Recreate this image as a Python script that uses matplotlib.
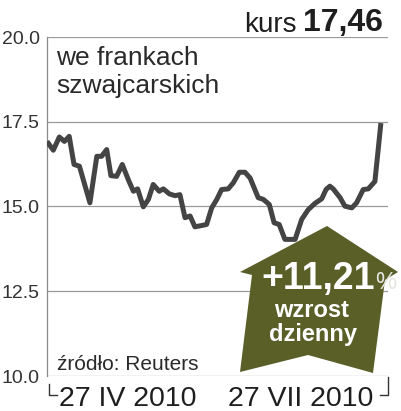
import matplotlib
matplotlib.use('Agg')
import matplotlib.pyplot as plt
from matplotlib.patches import Polygon

# daily rate (CHF), x = trading day index from start of window
days = [0, 2.1, 4.1, 5.8, 7.4, 9, 10.8, 14.3, 16.6, 18.2,
        19.9, 21.3, 23.2, 25.1, 27.1, 28.8, 30.2, 32.1, 33.8, 35.4,
        37.4, 38.8, 40.8, 42.7, 44.3, 46, 47.7, 49.3, 51.6, 53.2,
        54.9, 56.6, 58.2, 60.4, 62.1, 64.1, 66, 67.7, 70.4, 72.1,
        74.1, 75.7, 77.4, 79.3, 81, 82.7, 84.9, 87.1, 89.3, 91.6,
        93, 94.3, 95.4, 97.7, 99.3, 101.6, 103.2, 105.4, 107.1, 109.3,
        110.4, 111.3]
prices = [16.92, 16.66, 17.05, 16.92, 17.07, 16.24, 16.19, 15.11, 16.48, 16.48,
          16.68, 15.91, 15.89, 16.24, 15.79, 15.45, 15.52, 14.99, 15.21, 15.65,
          15.45, 15.52, 15.37, 15.32, 15.35, 14.67, 14.72, 14.40, 14.44, 14.47,
          14.96, 15.21, 15.50, 15.52, 15.70, 16.01, 16.01, 15.84, 15.26, 15.21,
          15.06, 14.52, 14.47, 14.03, 14.03, 14.03, 14.62, 14.91, 15.09, 15.23,
          15.50, 15.60, 15.52, 15.26, 15.01, 14.96, 15.11, 15.50, 15.52, 15.74,
          16.68, 17.46]

yticks = [10.0, 12.5, 15.0, 17.5, 20.0]
date_pos = [27, 84.7]
date_labels = ['27 IV 2010', '27 VII 2010']

W, H = 401, 411
plt.rcParams['font.family'] = ['Liberation Sans', 'DejaVu Sans']


def fx(x):
    return x / W


def fy(y):
    return 1 - y / H


fig = plt.figure(figsize=(W / 100, H / 100), dpi=100)
ax = fig.add_axes([fx(46.5), fy(376), (388 - 46.5) / W, (376 - 37) / H])

ax.set_xlim(-0.17, 113.67)
ax.set_ylim(10, 20)
for v in yticks:
    ax.axhline(v, color='#9a9a9a', lw=0.9, zorder=1)
ax.plot(days, prices, color='#444444', lw=3.6, solid_joinstyle='round',
        solid_capstyle='butt', zorder=3)

for s in ['top', 'right', 'bottom']:
    ax.spines[s].set_visible(False)
ax.spines['left'].set_color('#8a8a8a')
ax.spines['left'].set_linewidth(0.9)
ax.set_yticks(yticks)
ax.set_yticklabels(['%.1f' % v for v in yticks], fontsize=14, color='#333333')
ax.tick_params(axis='y', length=0, pad=5)
ax.set_xticks([])

# date labels under the axis
for p, lab in zip(date_pos, date_labels):
    ax.text(p, (376 - 405.5) / 339, lab, transform=ax.get_xaxis_transform(),
            ha='center', va='baseline', fontsize=20.5, color='#1e1e1e')

# bracket marks
fig.add_artist(plt.Line2D([fx(49), fx(49), fx(57)], [fy(384), fy(395), fy(395)],
                          color='#333333', lw=1.0))
fig.add_artist(plt.Line2D([fx(388), fx(388), fx(380)], [fy(377), fy(395), fy(395)],
                          color='#333333', lw=1.0))

# title
fig.text(fx(297), fy(31.5), 'kurs', ha='right', va='baseline', fontsize=20,
         color='#1e1e1e')
fig.text(fx(383), fy(31.5), '17,46', ha='right', va='baseline', fontsize=23,
         fontweight='bold', color='#1e1e1e')

fig.text(fx(56), fy(65), 'we frankach', ha='left', va='baseline', fontsize=19,
         color='#2a2a2a')
fig.text(fx(56), fy(93), 'szwajcarskich', ha='left', va='baseline', fontsize=19,
         color='#2a2a2a')
fig.text(fx(57), fy(370), 'źródło: Reuters', ha='left', va='baseline',
         fontsize=15, color='#2a2a2a')

# green arrow
arrow = [(240, 272), (327, 226), (398, 272), (385, 280), (373, 373),
         (308, 355), (240, 372), (252, 275)]
fig.add_artist(Polygon([(fx(x), fy(y)) for x, y in arrow], closed=True,
                       transform=fig.transFigure, facecolor='#5a5f28',
                       edgecolor='none', zorder=5))
fig.text(fx(375), fy(289), '+11,21', ha='right', va='baseline', fontsize=27,
         fontweight='bold', color='white', zorder=6)
fig.text(fx(375), fy(289), '%', ha='left', va='baseline', fontsize=17,
         color='#e6e6e0', zorder=6)
fig.text(fx(312), fy(317), 'wzrost', ha='center', va='baseline', fontsize=17,
         fontweight='bold', color='white', zorder=6)
fig.text(fx(313), fy(341), 'dzienny', ha='center', va='baseline', fontsize=17,
         fontweight='bold', color='white', zorder=6)

fig.savefig('out.png', dpi=100)
